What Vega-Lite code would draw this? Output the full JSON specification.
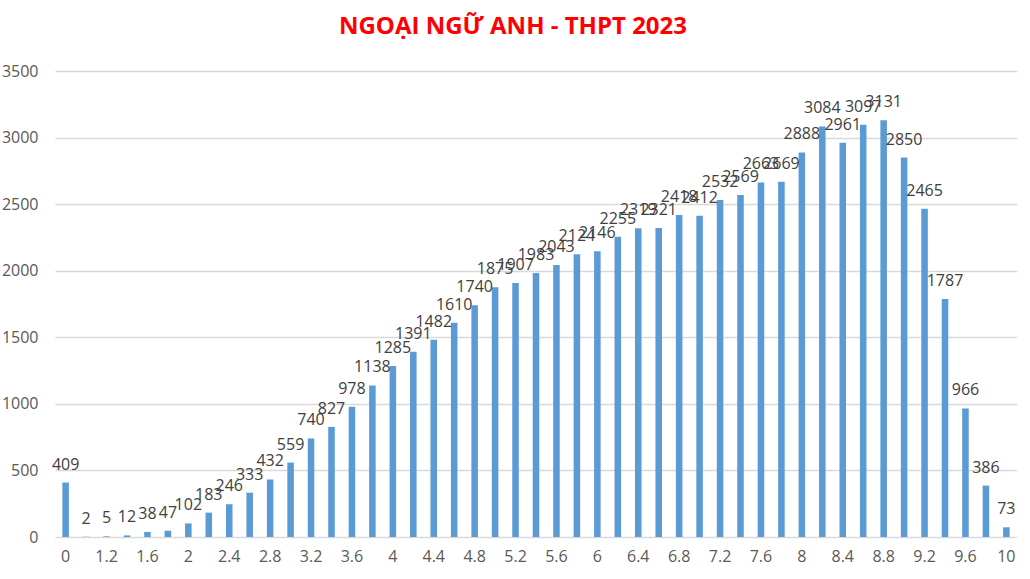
{
  "$schema": "https://vega.github.io/schema/vega-lite/v6.json",
  "width": 962,
  "height": 466,
  "autosize": "none",
  "padding": {"left": 55, "top": 71, "right": 13, "bottom": 42},
  "background": "white",
  "title": {
    "text": "NGOẠI NGỮ ANH - THPT 2023",
    "font": "Open Sans",
    "fontSize": 24,
    "fontWeight": "bold",
    "color": "#FF0000",
    "anchor": "middle",
    "dx": -23,
    "offset": 24
  },
  "config": {
    "view": {"stroke": null},
    "axis": {"labelFont": "Open Sans", "labelFontSize": 16, "labelColor": "#595959"}
  },
  "data": {
    "values": [
      {"score": "0", "count": 409},
      {"score": "1", "count": 2},
      {"score": "1.2", "count": 5},
      {"score": "1.4", "count": 12},
      {"score": "1.6", "count": 38},
      {"score": "1.8", "count": 47},
      {"score": "2", "count": 102},
      {"score": "2.2", "count": 183},
      {"score": "2.4", "count": 246},
      {"score": "2.6", "count": 333},
      {"score": "2.8", "count": 432},
      {"score": "3", "count": 559},
      {"score": "3.2", "count": 740},
      {"score": "3.4", "count": 827},
      {"score": "3.6", "count": 978},
      {"score": "3.8", "count": 1138},
      {"score": "4", "count": 1285},
      {"score": "4.2", "count": 1391},
      {"score": "4.4", "count": 1482},
      {"score": "4.6", "count": 1610},
      {"score": "4.8", "count": 1740},
      {"score": "5", "count": 1875},
      {"score": "5.2", "count": 1907},
      {"score": "5.4", "count": 1983},
      {"score": "5.6", "count": 2043},
      {"score": "5.8", "count": 2124},
      {"score": "6", "count": 2146},
      {"score": "6.2", "count": 2255},
      {"score": "6.4", "count": 2319},
      {"score": "6.6", "count": 2321},
      {"score": "6.8", "count": 2418},
      {"score": "7", "count": 2412},
      {"score": "7.2", "count": 2532},
      {"score": "7.4", "count": 2569},
      {"score": "7.6", "count": 2663},
      {"score": "7.8", "count": 2669},
      {"score": "8", "count": 2888},
      {"score": "8.2", "count": 3084},
      {"score": "8.4", "count": 2961},
      {"score": "8.6", "count": 3097},
      {"score": "8.8", "count": 3131},
      {"score": "9", "count": 2850},
      {"score": "9.2", "count": 2465},
      {"score": "9.4", "count": 1787},
      {"score": "9.6", "count": 966},
      {"score": "9.8", "count": 386},
      {"score": "10", "count": 73}
    ]
  },
  "encoding": {
    "x": {
      "field": "score",
      "type": "ordinal",
      "sort": null,
      "scale": {"paddingInner": 0.68, "paddingOuter": 0.36},
      "axis": {
        "title": null,
        "labelAngle": 0,
        "domain": false,
        "ticks": false,
        "labelPadding": 11,
        "values": ["0", "1.2", "1.6", "2", "2.4", "2.8", "3.2", "3.6", "4", "4.4", "4.8", "5.2", "5.6", "6", "6.4", "6.8", "7.2", "7.6", "8", "8.4", "8.8", "9.2", "9.6", "10"]
      }
    },
    "y": {
      "field": "count",
      "type": "quantitative",
      "scale": {"domain": [0, 3500], "nice": false},
      "axis": {
        "title": null,
        "format": "d",
        "values": [0, 500, 1000, 1500, 2000, 2500, 3000, 3500],
        "domain": false,
        "ticks": false,
        "labelPadding": 17,
        "gridColor": "#D9D9D9",
        "gridWidth": 1.5
      }
    }
  },
  "layer": [
    {"mark": {"type": "bar", "color": "#5B9BD5"}},
    {
      "mark": {
        "type": "text",
        "font": "Open Sans",
        "fontSize": 16,
        "color": "#404040",
        "baseline": "alphabetic",
        "dy": -13
      },
      "encoding": {"text": {"field": "count", "type": "quantitative", "format": "d"}}
    }
  ]
}
